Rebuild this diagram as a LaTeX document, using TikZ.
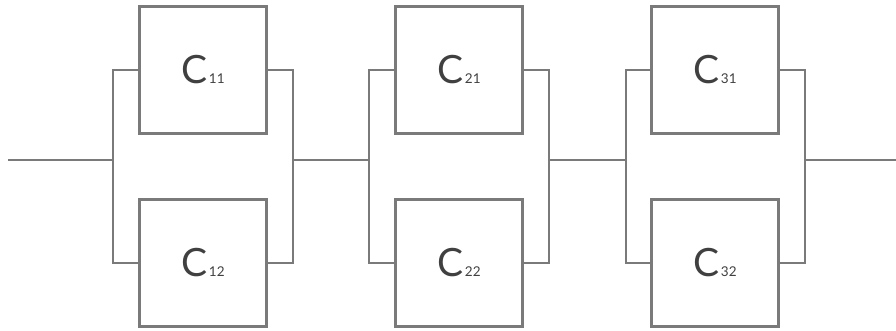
\documentclass[tikz,border=0pt]{standalone}
\usepackage{fontspec}
\setmainfont{Lato}
\definecolor{wire}{HTML}{7A7A7A}
\definecolor{ink}{HTML}{404040}
\tikzset{unit/.style={rectangle, draw=wire, line width=2.2pt, minimum size=127pt, inner sep=0pt, text=ink}}
\newcommand{\cname}[1]{{\fontsize{39}{39}\selectfont C}\hspace{1.5pt}{\fontsize{13.5}{13.5}\selectfont #1}}
\begin{document}
\begin{tikzpicture}[x=1pt,y=-1pt,line width=2.2pt,draw=wire]
	\useasboundingbox (0,0) rectangle (896,331);
	\node (C11) at (203, 70)	[unit]	{\cname{11}};
	\node (C12) at (203,263)	[unit]	{\cname{12}};
	\node (C21) at (459, 70)	[unit]	{\cname{21}};
	\node (C22) at (459,263)	[unit]	{\cname{22}};
	\node (C31) at (715, 70)	[unit]	{\cname{31}};
	\node (C32) at (715,263)	[unit]	{\cname{32}};
	\coordinate (In)  at (  8,160);
	\coordinate (L1)  at (113,160);
	\coordinate (R1)  at (293,160);
	\coordinate (L2)  at (369,160);
	\coordinate (R2)  at (549,160);
	\coordinate (L3)  at (626,160);
	\coordinate (R3)  at (805,160);
	\coordinate (Out) at (896,160);
	\draw (In) -- (L1);
	\draw (C11.west) -| (L1) |- (C12.west);
	\draw (C11.east) -| (R1) |- (C12.east);
	\draw (R1) -- (L2);
	\draw (C21.west) -| (L2) |- (C22.west);
	\draw (C21.east) -| (R2) |- (C22.east);
	\draw (R2) -- (L3);
	\draw (C31.west) -| (L3) |- (C32.west);
	\draw (C31.east) -| (R3) |- (C32.east);
	\draw (R3) -- (Out);
\end{tikzpicture}
\end{document}
